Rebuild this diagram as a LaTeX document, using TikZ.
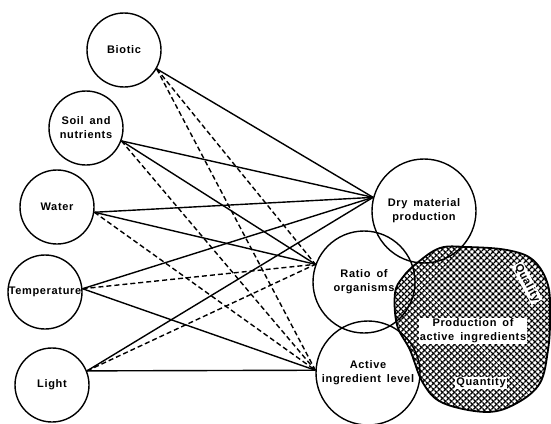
\documentclass[tikz,border=0pt]{standalone}
\usepackage{fontspec}
\setsansfont[LetterSpace=6, WordSpace=1.6]{Liberation Sans}
\usetikzlibrary{patterns.meta}

\tikzset{
  factor/.style={circle, draw, line width=1.4pt, minimum size=74pt, inner sep=0pt,
    align=center, font=\sffamily\bfseries\fontsize{11}{14}\selectfont},
  outcome/.style={factor, minimum size=104pt},
  link/.style={line width=1.4pt},
  weak/.style={link, dash pattern=on 5pt off 3pt},
  label/.style={fill=white, inner sep=1pt, align=center,
    font=\sffamily\bfseries\fontsize{11}{14}\selectfont}
}

\begin{document}
\begin{tikzpicture}[x=1pt, y=-1pt]
    \useasboundingbox (0,0) rectangle (551,423);

    % Growth factors
    \node[factor] (biotic) at (124,50) {Biotic};
    \node[factor] (soil) at (86,128) {Soil and\\nutrients};
    \node[factor] (water) at (57,207) {Water};
    \node[factor] (temp) at (45,292) {Temperature};
    \node[factor] (light) at (52,385) {Light};

    % Plant responses
    \node[outcome] (dry) at (424,211) {Dry material\\production};
    \node[outcome, minimum size=102pt] (ratio) at (364,282) {Ratio of\\organisms};
    \node[outcome] (active) at (368,373) {Active\\ingredient level};

    % Strong influences
    \foreach \a/\b in {biotic.-30/dry.165, soil.-20/dry.165, water.-8/dry.165,
                       temp.5/dry.165, light.22/dry.165,
                       soil.-20/ratio.160, water.-8/ratio.160,
                       temp.5/active.177, light.22/active.177} {
        \draw[link] (\a) -- (\b);
    }

    % Weak influences
    \foreach \a/\b in {biotic.-30/ratio.160, temp.5/ratio.160, light.22/ratio.160,
                       biotic.-30/active.177, soil.-20/active.177, water.-8/active.177} {
        \draw[weak] (\a) -- (\b);
    }

    % Hatched area
    \def\blob{plot[smooth cycle, tension=0.6] coordinates {(395,293) (403,277) (417,263)
        (440,248) (467,247) (507,250) (533,260) (548,285) (550,320) (548,350) (540,383)
        (517,403) (487,412) (443,403) (423,383) (410,350) (397,325)}}
    \fill[pattern={Lines[angle=45, distance=4pt, line width=1.6pt]}] \blob;
    \fill[pattern={Lines[angle=-45, distance=4pt, line width=1.6pt]}] \blob;
    \draw[line width=1.8pt] \blob;

    % Labels in the hatched area
    \node[label, rotate=-62] (quality) at (527,283) {Quality};
    \node[label] (prod) at (473,331) {Production of\\active ingredients};
    \node[label] (quantity) at (481,383) {Quantity};

\end{tikzpicture}
\end{document}
